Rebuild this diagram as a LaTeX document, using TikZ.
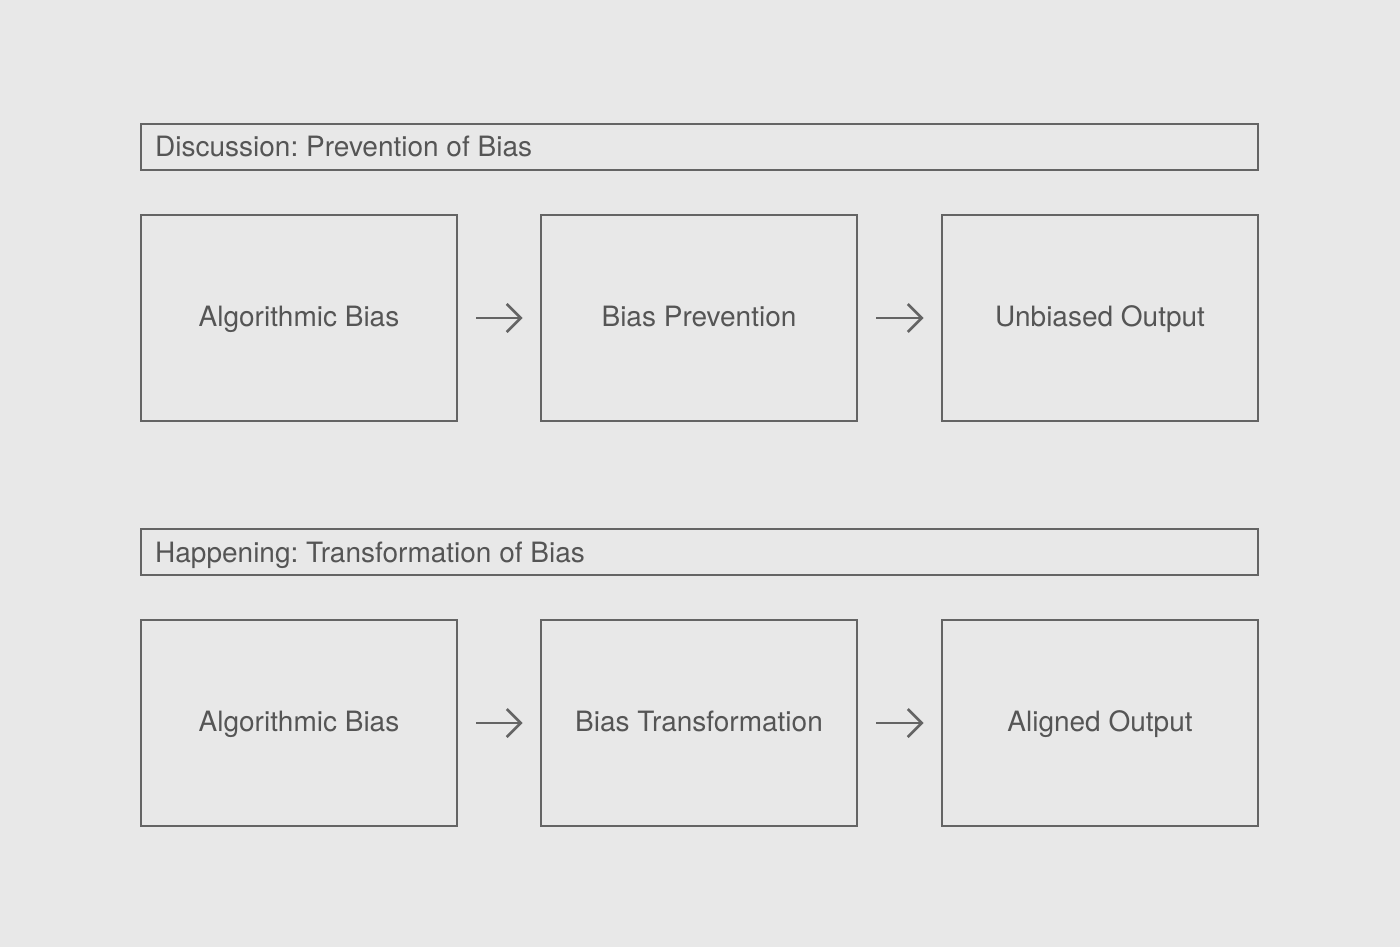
\documentclass[tikz,border=0pt]{standalone}
\usepackage{fontspec}
\setmainfont{TeX Gyre Heros}
\usetikzlibrary{arrows.meta}
\definecolor{bgc}{HTML}{E8E8E8}
\definecolor{linec}{HTML}{646464}
\definecolor{textc}{HTML}{555555}
\tikzset{
  stagebox/.style={draw=linec, line width=2.7pt, minimum width=316pt, minimum height=206pt, inner sep=0pt, text=textc, text height=20pt, text depth=4pt, font=\fontsize{28}{32}\selectfont},
  headbox/.style={draw=linec, line width=2.7pt, minimum width=1117pt, minimum height=46pt, inner sep=0pt},
  headtext/.style={anchor=west, inner sep=0pt, text=textc, text height=20pt, text depth=4pt, font=\fontsize{28}{32}\selectfont},
  flow/.style={draw=linec, line width=2.7pt, -{Straight Barb[length=14pt,width=28pt]}, shorten <=18pt, shorten >=17pt}
}
\begin{document}
\frenchspacing
\begin{tikzpicture}[x=1pt,y=-1pt]
\fill[bgc] (0,0) rectangle (1400,947);
\useasboundingbox (0,0) rectangle (1400,947);
% top
\node[headbox] (h1) at (699.5,147) {};
\node[headtext] (h1t) at (155,149) {Discussion: Prevention of Bias};
\node[stagebox] (a1) at (299,318) {Algorithmic Bias};
\node[stagebox] (b1) at (699,318) {Bias Prevention};
\node[stagebox] (c1) at (1100,318) {Unbiased Output};
\draw[flow] (a1.east) -- (b1.west);
\draw[flow] (b1.east) -- (c1.west);
% bottom
\node[headbox] (h2) at (699.5,552) {};
\node[headtext] (h2t) at (155,554) {Happening: Transformation of Bias};
\node[stagebox] (a2) at (299,723) {Algorithmic Bias};
\node[stagebox] (b2) at (699,723) {Bias Transformation};
\node[stagebox] (c2) at (1100,723) {Aligned Output};
\draw[flow] (a2.east) -- (b2.west);
\draw[flow] (b2.east) -- (c2.west);
\end{tikzpicture}
\end{document}
